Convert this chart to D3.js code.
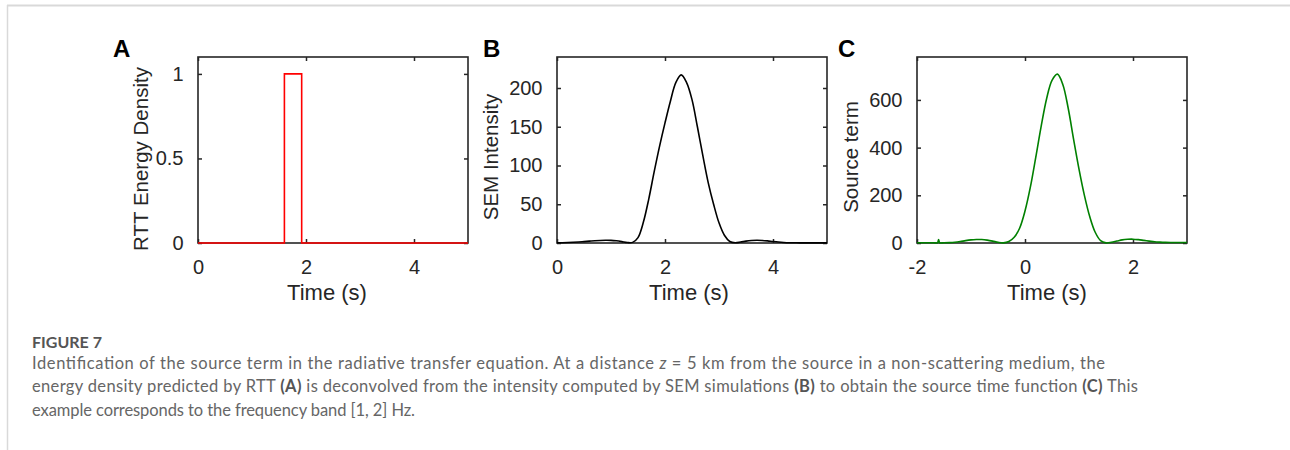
<!DOCTYPE html>
<html>
<head>
<meta charset="utf-8">
<script src="https://cdn.jsdelivr.net/npm/d3@7"></script>
<style>
  html, body { margin: 0; padding: 0; background: #fff; }
  svg { display: block; }
</style>
</head>
<body>
<svg id="chart" width="1290" height="450"></svg>
<script>
// ---------- Data ----------
// Panel A: RTT energy density (step function)
const timeA = [0, 1.6, 1.6, 1.92, 1.92, 5];
const rttA  = [0, 0, 1, 1, 0, 0];

// Panel B: SEM intensity
const timeB = [0.0,0.1,0.2,0.3,0.4,0.5,0.6,0.7,0.8,0.9,1.0,1.1,1.2,1.3,1.4,1.5,1.6,1.7,1.8,1.9,
               2.0,2.1,2.2,2.3,2.4,2.5,2.6,2.7,2.8,2.9,3.0,3.1,3.2,3.3,3.4,3.5,3.6,3.7,3.8,3.9,
               4.0,4.1,4.2,4.3,4.4,4.5,4.6,4.7,4.8,4.9,5.0];
const semB  = [0.3,0.4,0.6,0.9,1.3,1.8,2.4,2.9,3.3,3.5,3.4,2.8,1.8,0.6,0.8,7,27,57,92,125,
               155,183,207,217,207,185,150,113,78,50,26,10,2,0.3,1.2,2.4,3.2,3.5,3.3,2.7,
               1.9,1.2,0.7,0.4,0.3,0.2,0.2,0.2,0.2,0.2,0.2];

// Panel C: source term
const timeC = [-2.0,-1.9,-1.8,-1.7,-1.62,-1.6,-1.58,-1.5,-1.4,-1.3,-1.2,-1.1,-1.0,-0.9,-0.8,-0.7,-0.6,-0.5,-0.4,-0.3,
               -0.2,-0.1,0.0,0.1,0.2,0.3,0.4,0.5,0.6,0.7,0.8,0.9,1.0,1.1,1.2,1.3,1.4,1.5,1.6,1.7,
               1.8,1.9,2.0,2.1,2.2,2.3,2.4,2.5,2.6,2.7,2.8,2.9,3.0];
const srcC  = [1,1,1,1,1,14,1,1,1.5,3,6,10,13,14.5,14.5,12,8,3,0.5,6,
               24,62,134,235,360,490,605,682,708,665,565,435,310,200,110,45,10,0.5,3,8,
               13,15.5,16,14,11,8,5,3.5,2.5,2,2,2,2];

// Tick values and labels
const xTicksAB = [0, 2, 4];
const xTickLabelsAB = ["0", "2", "4"];
const xTicksC = [-2, 0, 2];
const xTickLabelsC = ["-2", "0", "2"];
const yTicksA = [0, 0.5, 1];
const yTickLabelsA = ["0", "0.5", "1"];
const yTicksB = [0, 50, 100, 150, 200];
const yTickLabelsB = ["0", "50", "100", "150", "200"];
const yTicksC = [0, 200, 400, 600];
const yTickLabelsC = ["0", "200", "400", "600"];

const panelLetters = ["A", "B", "C"];
const yTitles = ["RTT Energy Density", "SEM Intensity", "Source term"];
const xTitle = "Time (s)";

// ---------- Layout ----------
const svg = d3.select("#chart");
svg.append("rect").attr("width", 1290).attr("height", 450).attr("fill", "#fff");

// page frame lines
svg.append("line").attr("x1", 7).attr("x2", 1290).attr("y1", 5.5).attr("y2", 5.5)
  .attr("stroke", "#d9d9d9").attr("stroke-width", 2);
svg.append("line").attr("x1", 7.5).attr("x2", 7.5).attr("y1", 5).attr("y2", 450)
  .attr("stroke", "#d9d9d9").attr("stroke-width", 1.5);

const panels = [
  { left: 198, xDom: [0, 5], yDom: [0, 1.1], xT: xTicksAB, xL: xTickLabelsAB, yT: yTicksA, yL: yTickLabelsA,
    t: timeA, v: rttA, color: "#ff0000", curve: d3.curveLinear, letterX: 113, yTitleX: 148, yTitleY: 159, xTitleX: 327 },
  { left: 557, xDom: [0, 5], yDom: [0, 240], xT: xTicksAB, xL: xTickLabelsAB, yT: yTicksB, yL: yTickLabelsB,
    t: timeB, v: semB, color: "#000000", curve: d3.curveCatmullRom, letterX: 483, yTitleX: 498, yTitleY: 157, xTitleX: 689 },
  { left: 917, xDom: [-2, 3], yDom: [0, 780], xT: xTicksC, xL: xTickLabelsC, yT: yTicksC, yL: yTickLabelsC,
    t: timeC, v: srcC, color: "#008000", curve: d3.curveCatmullRom, letterX: 838, yTitleX: 858, yTitleY: 157, xTitleX: 1047 }
];
const plotTop = 57, W = 270, H = 186;
const axisColor = "#262626";
const font = "'Liberation Sans', Arial, Helvetica, sans-serif";

panels.forEach((p, i) => {
  const g = svg.append("g").attr("transform", `translate(${p.left},${plotTop})`);
  const x = d3.scaleLinear().domain(p.xDom).range([0, W]);
  const y = d3.scaleLinear().domain(p.yDom).range([H, 0]);

  const clipId = "clip" + i;
  g.append("clipPath").attr("id", clipId).append("rect")
    .attr("x", -1).attr("y", -1).attr("width", W + 2).attr("height", H + 2);

  const bottom = g.append("g").attr("transform", `translate(0,${H})`)
    .call(d3.axisBottom(x).tickValues(p.xT).tickFormat((d, k) => p.xL[k])
      .tickSizeInner(-4).tickSizeOuter(0).tickPadding(16.5));
  const topAx = g.append("g")
    .call(d3.axisTop(x).tickValues(p.xT).tickFormat("").tickSizeInner(-4).tickSizeOuter(0));
  const leftAx = g.append("g")
    .call(d3.axisLeft(y).tickValues(p.yT).tickFormat((d, k) => p.yL[k])
      .tickSizeInner(-4).tickSizeOuter(0).tickPadding(14.5));
  const rightAx = g.append("g").attr("transform", `translate(${W},0)`)
    .call(d3.axisRight(y).tickValues(p.yT).tickFormat("").tickSizeInner(-4).tickSizeOuter(0));

  [bottom, topAx, leftAx, rightAx].forEach(a => {
    a.select(".domain").remove();
    a.selectAll(".tick line").attr("stroke", axisColor).attr("stroke-width", 1.5);
    a.selectAll(".tick text").attr("fill", axisColor)
      .style("font-family", font).style("font-size", "20px");
  });

  const pts = p.t.map((t, k) => [t, p.v[k]]);
  const line = d3.line().x(d => x(d[0])).y(d => y(Math.max(0, d[1]))).curve(p.curve);

  g.append("rect").attr("width", W).attr("height", H)
    .attr("fill", "none").attr("stroke", axisColor).attr("stroke-width", 1.6);
  g.append("path").datum(pts).attr("d", line)
    .attr("fill", "none").attr("stroke", p.color).attr("stroke-width", 1.6)
    .attr("clip-path", `url(#${clipId})`);

  svg.append("text").attr("x", p.xTitleX).attr("y", 300)
    .attr("text-anchor", "middle").attr("fill", axisColor)
    .style("font-family", font).style("font-size", "22px").text(xTitle);

  svg.append("text")
    .attr("transform", `translate(${p.yTitleX},${p.yTitleY}) rotate(-90)`)
    .attr("text-anchor", "middle").attr("fill", axisColor)
    .style("font-family", font).style("font-size", "20.5px").text(yTitles[i]);

  svg.append("text").attr("x", p.letterX).attr("y", 57)
    .attr("fill", "#000").style("font-family", font).style("font-weight", "bold")
    .style("font-size", "24px").text(panelLetters[i]);
});

// ---------- Caption ----------
const capFont = "Lato, 'Open Sans', sans-serif";
svg.append("text").attr("x", 32).attr("y", 347.5)
  .attr("fill", "#555").style("font-family", capFont).style("font-size", "16px")
  .style("font-weight", "700")
  .text("FIGURE 7");

const capLines = [
  [["Identification of the source term in the radiative transfer equation. At a distance ", ""],
   ["z", "i"], [" = 5 km from the source in a non-scattering medium, the", ""]],
  [["energy density predicted by RTT ", ""], ["(A)", "b"],
   [" is deconvolved from the intensity computed by SEM simulations ", ""], ["(B)", "b"],
   [" to obtain the source time function ", ""], ["(C)", "b"], [" This", ""]],
  [["example corresponds to the frequency band [1, 2] Hz.", ""]]
];
const capBase = [368.5, 392, 415.5];
const capWidths = [1073, 1106, 383];
capLines.forEach((segs, li) => {
  const t = svg.append("text").attr("x", 32).attr("y", capBase[li])
    .attr("fill", "#666").style("font-family", capFont).style("font-size", "16.5px")
    .attr("textLength", capWidths[li]).attr("lengthAdjust", "spacing");
  segs.forEach(([s, st]) => {
    const ts = t.append("tspan").text(s);
    if (st === "b") ts.style("font-weight", "700").attr("fill", "#555");
    if (st === "i") ts.style("font-style", "italic");
  });
});
</script>
</body>
</html>
